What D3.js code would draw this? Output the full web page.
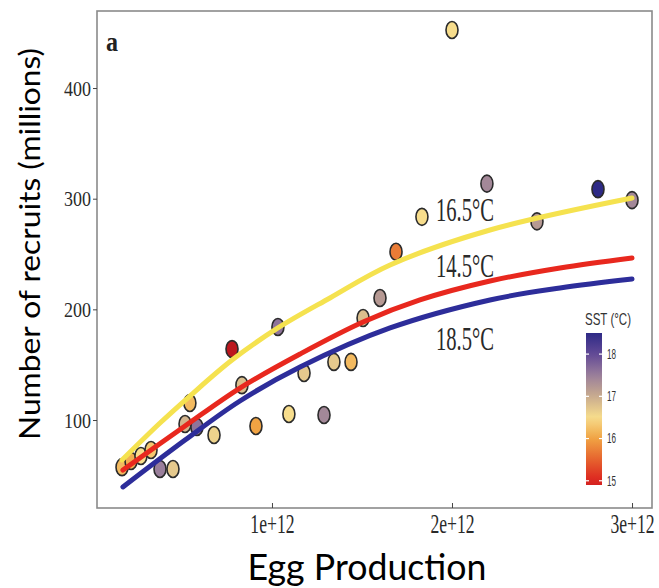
<!DOCTYPE html>
<html>
<head>
<meta charset="utf-8">
<script src="https://cdn.jsdelivr.net/npm/d3@7"></script>
<style>
  body { margin: 0; background: #fff; }
</style>
</head>
<body>
<svg width="659" height="588"></svg>
<script>
// observed stock data (egg production in units of 1e12, recruits in millions, SST in degC)
let eggProduction = [0.167, 0.217, 0.272, 0.328, 0.378, 0.45, 0.544, 0.517, 0.583, 0.678,
    0.778, 0.833, 0.911, 1.033, 1.094, 1.178, 1.289, 1.344, 1.439, 1.506,
    1.6, 1.689, 1.833, 2.0, 2.194, 2.472, 2.811, 3.0];
let recruits = [57.4, 63.0, 67.5, 72.9, 55.8, 55.8, 115.4, 96.4, 93.7, 86.5,
    164.1, 131.5, 94.6, 184.0, 105.4, 142.5, 104.6, 152.5, 152.5, 192.2,
    210.3, 252.0, 283.6, 452.4, 313.6, 279.5, 308.6, 298.7];
let sst = [16.2, 16.1, 16.5, 16.3, 17.5, 16.7, 16.2, 16.9, 17.6, 16.6,
    14.6, 16.8, 16.0, 17.6, 16.5, 16.7, 17.4, 16.7, 16.2, 16.8,
    17.2, 15.7, 16.5, 16.5, 17.4, 17.2, 18.5, 17.4];

// fitted curves
let curveSST = [16.5, 14.5, 18.5];
let curveLabels = ["16.5°C", "14.5°C", "18.5°C"];
let curveX = [
    [0.167, 0.378, 0.544, 0.778, 1.033, 1.322, 1.656, 2.211, 3.0],
    [0.172, 0.517, 0.822, 1.156, 1.506, 1.822, 2.211, 2.6, 3.0],
    [0.172, 0.517, 0.822, 1.156, 1.656, 2.211, 2.6, 3.0]
];
let curveY = [
    [63.9, 97.3, 121.7, 154.2, 183.2, 210.3, 240.1, 271.7, 300.6],
    [54.8, 94.6, 128.9, 159.7, 188.6, 208.5, 225.6, 237.4, 246.4],
    [39.5, 81.9, 117.2, 147.9, 183.2, 208.5, 219.3, 227.4]
];

let xTicks = [1, 2, 3];
let yTicks = [100, 200, 300, 400];
let sstTicks = [15, 16, 17, 18];

// colours
let sstStops = [14.5, 15, 15.5, 16, 16.5, 17, 17.5, 18, 18.5];
let sstColours = ["#b3141e", "#dc2420", "#e6622e", "#f0a343", "#f7dd8c", "#c9ab8e", "#9a7f9b", "#634a96", "#2e2a86"];
let curveColours = ["#f5e24f", "#e8281e", "#2d2d9a"];

let svg = d3.select("svg");

// plot frame
let plotLeft = 97, plotRight = 652, plotTop = 11, plotBottom = 508;

let xScale = d3.scaleLinear()
    .domain([0.028, 3.111])
    .range([plotLeft, plotRight]);

let yScale = d3.scaleLinear()
    .domain([20.5, 469.6])
    .range([plotBottom, plotTop]);

let colour = d3.scaleLinear()
    .domain(sstStops)
    .range(sstColours)
    .clamp(true);

function squeeze(sel, width) {
    sel.attr("textLength", width).attr("lengthAdjust", "spacingAndGlyphs");
}

svg.append("rect")
    .attr("x", plotLeft)
    .attr("y", plotTop)
    .attr("width", plotRight - plotLeft)
    .attr("height", plotBottom - plotTop)
    .attr("fill", "white")
    .attr("stroke", "#8a8a8a")
    .attr("stroke-width", 1.6);

// x axis
let xAxis = d3.axisBottom(xScale)
    .tickValues(xTicks)
    .tickSizeInner(-5)
    .tickSizeOuter(0)
    .tickPadding(4)
    .tickFormat(d => (d * 1e12).toExponential(0));

let gx = svg.append("g")
    .attr("transform", `translate(0, ${plotBottom})`)
    .call(xAxis);
gx.select(".domain").remove();
gx.selectAll("line").attr("stroke", "#444");
gx.selectAll("text")
    .attr("font-family", "Liberation Serif")
    .attr("font-size", 28)
    .attr("fill", "#2a2a2a")
    .attr("dy", "0.75em")
    .attr("transform", "scale(0.63,1)");

// y axis
let yAxis = d3.axisLeft(yScale)
    .tickValues(yTicks)
    .tickSizeInner(4)
    .tickSizeOuter(0)
    .tickPadding(2);

let gy = svg.append("g")
    .attr("transform", `translate(${plotLeft}, 0)`)
    .call(yAxis);
gy.select(".domain").remove();
gy.selectAll("line").attr("stroke", "#444");
gy.selectAll("text")
    .attr("font-family", "Liberation Serif")
    .attr("font-size", 22)
    .attr("fill", "#2a2a2a")
    .call(squeeze, 27);

// panel letter
svg.append("text")
    .attr("x", 106)
    .attr("y", 51)
    .attr("font-family", "Liberation Serif")
    .attr("font-weight", "bold")
    .attr("font-size", 28)
    .attr("fill", "#222")
    .text("a")
    .call(squeeze, 12);

// points
svg.selectAll("ellipse.obs")
    .data(eggProduction)
    .enter()
    .append("ellipse")
    .attr("class", "obs")
    .attr("cx", d => xScale(d))
    .attr("cy", (d, i) => yScale(recruits[i]))
    .attr("rx", 6)
    .attr("ry", 8.5)
    .attr("fill", (d, i) => colour(sst[i]))
    .attr("stroke", "#2b2b2b")
    .attr("stroke-width", 1.6);

// fitted curves
let line = d3.line()
    .x(d => xScale(d[0]))
    .y(d => yScale(d[1]))
    .curve(d3.curveCatmullRom.alpha(0.5));

svg.selectAll("path.fit")
    .data(curveSST)
    .enter()
    .append("path")
    .attr("class", "fit")
    .attr("d", (d, i) => line(d3.zip(curveX[i], curveY[i])))
    .attr("fill", "none")
    .attr("stroke", (d, i) => curveColours[i])
    .attr("stroke-width", 5)
    .attr("stroke-linecap", "round");

// curve labels
let labelBase = [221, 277, 350];
svg.selectAll("text.fitlab")
    .data(curveLabels)
    .enter()
    .append("text")
    .attr("class", "fitlab")
    .attr("x", 436)
    .attr("y", (d, i) => labelBase[i])
    .attr("font-family", "Liberation Serif")
    .attr("font-size", 33)
    .attr("fill", "#2a2a2a")
    .text(d => d)
    .call(squeeze, 58);

// colour bar
let barX = 586, barW = 16;
let barScale = d3.scaleLinear()
    .domain([14.9, 18.5])
    .range([485, 333]);

let defs = svg.append("defs");
let grad = defs.append("linearGradient")
    .attr("id", "sstGrad")
    .attr("x1", 0).attr("x2", 0)
    .attr("y1", 1).attr("y2", 0);
grad.selectAll("stop")
    .data(d3.range(0, 1.0001, 0.05))
    .enter()
    .append("stop")
    .attr("offset", d => d)
    .attr("stop-color", d => colour(14.9 + d * 3.6));

svg.append("rect")
    .attr("x", barX)
    .attr("y", barScale(18.5))
    .attr("width", barW)
    .attr("height", barScale(14.9) - barScale(18.5))
    .attr("fill", "url(#sstGrad)");

let barTicks = svg.append("g");
sstTicks.forEach(t => {
    barTicks.append("line")
        .attr("x1", barX).attr("x2", barX + 3)
        .attr("y1", barScale(t)).attr("y2", barScale(t))
        .attr("stroke", "white").attr("stroke-width", 1.2);
    barTicks.append("line")
        .attr("x1", barX + barW - 3).attr("x2", barX + barW)
        .attr("y1", barScale(t)).attr("y2", barScale(t))
        .attr("stroke", "white").attr("stroke-width", 1.2);
    barTicks.append("text")
        .attr("x", 607)
        .attr("y", barScale(t))
        .attr("dy", "0.35em")
        .attr("font-family", "Liberation Sans")
        .attr("font-size", 14)
        .attr("fill", "#333")
        .text(t)
        .call(squeeze, 9);
});

svg.append("text")
    .attr("x", 585)
    .attr("y", 325)
    .attr("font-family", "Liberation Sans")
    .attr("font-size", 17)
    .attr("fill", "#333")
    .text("SST (°C)")
    .call(squeeze, 46);

// axis titles
svg.append("text")
    .attr("transform", "translate(40, 244) rotate(-90)")
    .attr("text-anchor", "middle")
    .attr("font-family", "Lato")
    .attr("font-size", 29)
    .attr("fill", "#000")
    .text("Number of recruits (millions)")
    .call(squeeze, 392);

svg.append("text")
    .attr("x", 367)
    .attr("y", 580)
    .attr("text-anchor", "middle")
    .attr("font-family", "Lato")
    .attr("font-size", 37)
    .attr("fill", "#000")
    .text("Egg Production")
    .call(squeeze, 239);
</script>
</body>
</html>
